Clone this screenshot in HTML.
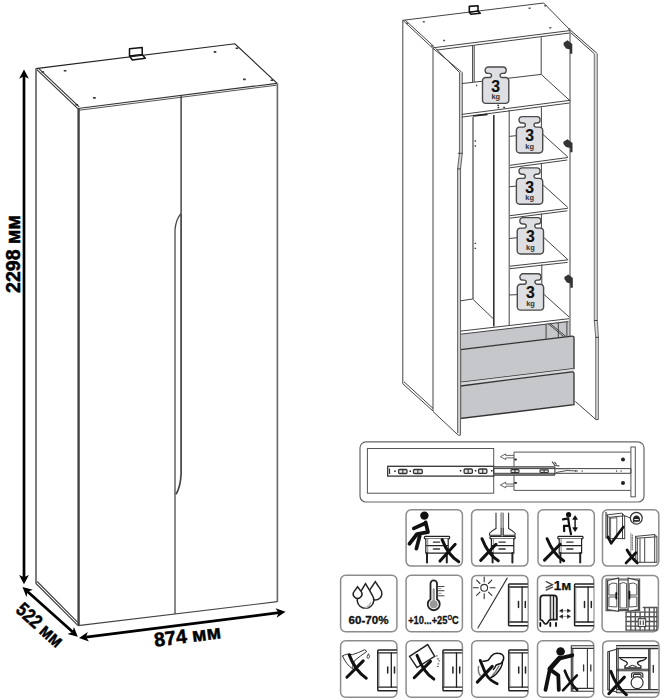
<!DOCTYPE html>
<html><head><meta charset="utf-8">
<style>
html,body{margin:0;padding:0;background:#fff;width:665px;height:700px;overflow:hidden}
svg{display:block}
text{font-family:"Liberation Sans",sans-serif}
</style></head>
<body>
<svg width="665" height="700" viewBox="0 0 665 700">
<defs>
<g id="wt">
<path d="M5.8,0 H20.5 A3.2,3.2 0 0 1 20.5,6.4 H19.6 A2,2 0 0 0 17.6,8.4 A2.1,2.1 0 0 0 19.7,10.5 H23.1 A3.2,3.2 0 0 1 26.3,13.7 V33.2 A3.2,3.2 0 0 1 23.1,36.4 H3.2 A3.2,3.2 0 0 1 0,33.2 V13.7 A3.2,3.2 0 0 1 3.2,10.5 H6.9 A2.1,2.1 0 0 0 9,8.4 A2,2 0 0 0 7,6.4 H5.8 A3.2,3.2 0 0 1 5.8,0 Z" fill="#dedfe3" stroke="#4a4a4a" stroke-width="1.4"/>
<text x="13.2" y="24.7" font-size="15.8" font-weight="bold" text-anchor="middle" fill="#111" stroke="#111" stroke-width="0.15">3</text>
<text x="13.2" y="32.3" font-size="7.4" font-weight="bold" text-anchor="middle" fill="#333">kg</text>
</g>
</defs>
<g id="L" fill="none" stroke="#333" stroke-width="1.2">
<!-- top -->
<path d="M35.8,68.6 L234.9,43.8 L276.9,83.2" stroke="#222" stroke-width="1.1"/>
<path d="M35.8,68.6 L77.8,108.6 M38.6,68.3 L79.2,106.8" stroke-width="1.1"/>
<path d="M77.8,108.5 L277.2,83.3" stroke-width="1.2"/><path d="M79,110.2 L276.5,85.2" stroke="#555" stroke-width="1.1"/>
<!-- bracket -->
<path d="M129.5,56 V48.8 L142.2,47.4 V54.6 M129.5,56 L142.2,54.6 L145.3,58.2 L132.3,60 Z" stroke="#111" stroke-width="1.5" stroke-linejoin="round"/>
<!-- holes -->
<g stroke-width="1.6" stroke="#333">
<path d="M41.6,72 h2.6 M63.8,70.8 h2.6 M93.1,97.9 h2.6 M75.4,104.8 h2.6 M213.7,51.9 h2.6 M243.1,79.4 h2.6 M235.6,48.3 h2.6 M270.6,80.3 h2.6"/>
</g>
<!-- edges -->
<path d="M36,68.6 V583.8" stroke="#777" stroke-width="1.9"/>
<path d="M36,583.5 L77.8,625.4 M37.2,581.5 L78,622.6" stroke="#444" stroke-width="1.2"/>
<path d="M78.6,108.5 V625.6" stroke="#444" stroke-width="2.4"/>
<path d="M277.4,83.2 V601.7" stroke="#666" stroke-width="1.6"/>
<path d="M78,625.6 L277.4,601.7" stroke="#444" stroke-width="1.2"/>
<!-- door split -->
<path d="M181.1,96 V213.5" stroke="#3a3a3a" stroke-width="1.4"/><path d="M181.1,213.5 Q176,219 175,229.8 V614" stroke="#4a4a4a" stroke-width="1.3"/>
<path d="M181.1,213.5 V474.3 Q180.5,487 176,494.2" stroke="#444" stroke-width="1.7"/>
</g>
<!-- dimension arrows -->
<g fill="#000" stroke="#000">
<path d="M24,76 V578" stroke-width="2.7"/>
<path d="M24,69.4 L19.1,78.7 L24,76.3 L28.9,78.7 Z" stroke="none"/>
<path d="M24,584.2 L19.1,574.9 L24,577.3 L28.9,574.9 Z" stroke="none"/>
<path d="M27.5,591.5 L72.8,632" stroke-width="2.7"/>
<path d="M22.5,587 L32.8,589.8 L27.7,591.7 L26.4,596.9 Z" stroke="none"/>
<path d="M77.8,636.8 L73.9,626.9 L72.6,632.1 L67.5,634 Z" stroke="none"/>
<path d="M86,637.2 L279,612.6" stroke-width="2.7"/>
<path d="M79,638 L89,641.6 L85.9,637.1 L87.8,632 Z" stroke="none"/>
<path d="M285.5,611.8 L276.7,617.8 L278.6,612.7 L275.5,608.2 Z" stroke="none"/>
</g>
<g font-weight="bold" fill="#000" stroke="#000" stroke-width="0.5" font-size="19.6">
<text transform="translate(19.5,254) rotate(-90)" text-anchor="middle">2298 мм</text>
<text transform="translate(35.5,630) rotate(41.8)" text-anchor="middle" textLength="56" lengthAdjust="spacingAndGlyphs">522 мм</text>
<text transform="translate(188.3,642.5) rotate(-7.3)" text-anchor="middle">874 мм</text>
</g>
<!-- RIGHT WARDROBE -->
<g id="R" fill="none" stroke="#444" stroke-width="1">
<!-- drawers fill -->
<path d="M460.4,334.5 L569.5,320.5 V336.5 L460.4,349.6 Z" fill="#c6c7cb" stroke="none"/>
<path d="M460.5,349.6 L572,336.1 Q574,336 574,338 V368.7 L460.5,382.5 Z" fill="#c6c7cb" stroke="#333" stroke-width="1.3"/>
<path d="M460.5,382.5 L574,368.7 V371.7 L460.5,386 Z" fill="#d8d9dc" stroke="none"/>
<path d="M460.5,386 L572,371.8 Q574,371.7 574,373.7 V404.7 L460.5,418.5 Z" fill="#c6c7cb" stroke="#333" stroke-width="1.3"/>
<!-- top -->
<path d="M402.8,20.3 L543.7,3 L570.5,30.5"/>
<path d="M402.8,20.3 L432.9,48.3 M405,20 L434,46.6"/>
<path d="M432.9,47.8 L570.5,30.5 M437,50 L569.5,33"/>
<path d="M469.3,12.2 V6.4 L478,5.8 V11 M469.3,12.2 L478,11 L480.2,13.3 L471,14.3 Z" stroke="#111" stroke-width="1.6" stroke-linejoin="round"/>
<g stroke-width="1.5" stroke="#555">
<path d="M406.3,23.3 h2 M422.8,21.8 h2 M443.1,40.6 h2 M431.1,45.9 h2 M528.6,8.3 h2 M549.3,27.8 h2 M544.3,5.8 h2 M568.3,29 h2"/>
</g>
<!-- outer edges -->
<path d="M402.8,20.3 V383.8 L433,411 M404,381.8 L433,408.3"/>
<path d="M433,48.3 V411"/>
<path d="M570,30.5 V336.5"/>
<!-- left door -->
<path d="M433,48.3 L461.8,72.3 M435.5,48.3 L460,73"/>
<path d="M459.5,72.8 V153.3 L457.6,168.9 V433 L460.5,435 V168.9 L462.3,153.3 V72.3 Z" fill="#d6d6d6" stroke="none"/>
<path d="M459.5,72.8 V153.3 L457.6,168.9 V433 M462.3,72.3 V153.3 L460.5,168.9 V435" stroke="#6a6a6a" stroke-width="1.1"/>
<path d="M457.8,153.3 H462.5 M457.3,168.9 H460.8" stroke="#444" stroke-width="1"/>
<path d="M433,411.5 L458.3,435.2 L460.5,435.2"/>
<!-- right door -->
<path d="M570.8,30.5 L597.3,53.6 M570.8,32.8 L594.5,53.8" stroke="#3a3a3a"/>
<path d="M594.3,53.8 V320.5 L595.7,337.3 V418 L598.4,419.6 V337.3 L597.3,320.5 V53.8 Z" fill="#dadada" stroke="none"/>
<path d="M594.3,53.8 V320.5 L595.7,337.3 V419.6 M597.3,53.8 V320.5 L598.4,337.3 V419.6" stroke="#777" stroke-width="1.1"/>
<path d="M594,320.5 H597.6 M595.4,337.3 H598.7" stroke="#444" stroke-width="1"/>
<path d="M575.3,401.4 L596,419.6 H598.4"/>
<!-- top compartment -->
<path d="M472.6,45.6 V82.1 M474.2,45.4 V81.9"/>
<path d="M541.2,37.2 V74.4"/>
<path d="M461.8,83.6 L541.2,74.4 L570.2,100.9"/>
<path d="M461.8,114.4 L570.2,100.3 M461.8,117.1 L569.5,103"/>
<!-- hanging compartment -->
<path d="M473,117 V299" stroke="#858585" stroke-width="1.8"/>
<path d="M474.6,141 h1.5 M474.6,146 h1.5 M474.6,243.3 h1.5 M474.6,248.4 h1.5 M476,85.5 h1.3" stroke="#444" stroke-width="1.3"/>
<path d="M493.8,115 V326.5" stroke-width="1.6" stroke="#333"/>
<path d="M509.2,110 V325.2"/>
<path d="M460.4,300.8 L472.6,299 L493.6,319"/>
<path d="M473,116 L487.5,114.4" stroke-width="1.6" stroke="#222"/>

<!-- shelves compartment -->
<path d="M541.4,107.2 V133 M541.4,163.2 V183.4 M541.4,213.6 V235.3 M541.8,264.5 V293.5"/>
<path d="M509.2,136.4 L541.4,133 L567.8,157 M509.9,165.3 L567.8,157.5 M509.9,167.8 L567.3,160"/>
<path d="M509.2,186.8 L541.4,183.4 L567.8,207.4 M509.9,215.7 L567.8,208.3 M509.9,218.2 L567.3,210.8"/>
<path d="M509.2,238.5 L541.4,235.3 L567.8,259.6 M509.9,266.2 L568.2,259.8 M509.9,268.7 L567.5,262.4"/>
<path d="M509.2,295 L543,293.5 L569.2,317.1"/>
<path d="M460.5,331.1 L569.2,318.7 M460.5,334.2 L568.3,321.6"/>
<!-- drawer inner -->
<path d="M546.1,324.4 V338.8 M548.4,323.9 L564.2,337 M550,323.5 L566,336.5 M558.3,322.6 V337 M566.9,321.8 V337"/>
</g>
<use href="#wt" x="482.5" y="67"/>
<use href="#wt" x="516.4" y="116.6"/>
<use href="#wt" x="516.4" y="167.9"/>
<use href="#wt" x="517.2" y="217.6"/>
<use href="#wt" x="517.3" y="273.7"/>
<g fill="#222"><rect x="497.3" y="104.7" width="1.6" height="1.4"/><rect x="497.6" y="106.9" width="1.6" height="1.4"/><rect x="503.3" y="106.8" width="1.6" height="1.4"/></g>
<!-- hinges -->
<g fill="#333">
<path d="M563.6,42.8 L567.5,40.3 L572.3,44 V53.8 H570 V49.5 L566,48.5 L563.6,45 Z"/>
<path d="M564.4,276.9 L568.3,274.4 L572.8,278 V287.7 H570.3 V283.5 L566.8,282.5 L564.4,279 Z"/>
<path d="M563.4,141.8 L567.5,139.2 L572.5,143 V152.2 H570.2 V148 L566,147 L563.4,144 Z"/>
</g>

<!-- RAIL DIAGRAM -->
<g fill="none" stroke="#333" stroke-width="1">
<rect x="360" y="441.8" width="284" height="60.2" rx="6" stroke="#666" stroke-width="1.2"/>
<rect x="367.4" y="448.5" width="126.3" height="44.7" stroke="#555"/>
<rect x="387.7" y="466.3" width="106" height="9.8" stroke="#333" stroke-width="1.3" fill="#fff"/>
<path d="M389.5,468.5 V474" stroke-width="1.2"/>
<path d="M514,452.1 H630.9 M514,490.4 H630.9 M514,452.1 V466.8 M514,475 V490.4" stroke="#555"/>
<rect x="630.9" y="447" width="4.4" height="49.8" stroke="#555" fill="#fff"/>
<rect x="493.7" y="466.8" width="61.2" height="1.8" fill="#aaa" stroke="none"/><rect x="493.7" y="473.3" width="61.2" height="1.8" fill="#aaa" stroke="none"/>
<path d="M493.7,466.8 H554.9 M493.7,475.1 H554.9 M554.9,466.8 V475.1" stroke="#444" stroke-width="1.1"/>
<path d="M493.7,468.6 H630.9 M493.7,473.3 H630.9 M630.9,468.6 V473.3" stroke="#444"/>
<path d="M555,468.7 L570,468.7 M556,472.5 L567,470.5 L578,471" stroke="#555"/>
<path d="M552,461.5 L555,465.5 L559.5,466 M554.5,462 L556.5,464.5" stroke="#333" stroke-width="1.1"/>
<!-- arrows -->
<path d="M514,455.4 H505.7 V453.9 L500.4,456.7 L505.7,459.6 V457.9 H514" stroke="#555" stroke-width="0.9"/>
<path d="M514,484 H505.7 V482.1 L500.4,485 L505.7,487.9 V486.2 H514" stroke="#555" stroke-width="0.9"/>
</g>
<g fill="#222">
<rect x="514.3" y="458.6" width="2.5" height="1.8"/>
<rect x="514.3" y="482" width="2.5" height="1.8"/>
<circle cx="623" cy="459.5" r="2"/>
<circle cx="623" cy="482.9" r="2"/>
<rect x="394.2" y="470.5" width="1.5" height="1.5"/>
<rect x="409.5" y="470.5" width="1.5" height="1.5"/>
<rect x="459.8" y="470" width="1.5" height="1.5"/>
<rect x="474.8" y="470" width="1.5" height="1.5"/>
<rect x="491" y="470" width="1.5" height="1.5"/>
</g>
<g fill="#e6e6e6" stroke="#333" stroke-width="1.3">
<rect x="398.6" y="469.5" width="8.4" height="4" rx="1"/>
<rect x="413.5" y="469.5" width="8.8" height="4" rx="1"/>
<rect x="464.1" y="469" width="8.3" height="4.3" rx="1"/>
<rect x="478.6" y="469" width="8.3" height="4.3" rx="1"/>
<rect x="511" y="469.6" width="8" height="3" rx="0.8" stroke-width="1.1"/>
<rect x="540" y="469.9" width="8.3" height="2.6" rx="0.8" stroke-width="1.1"/>
</g>
<path d="M402.8,469.5 V473.5 M417.9,469.5 V473.5 M468.2,469 V473.3 M482.7,469 V473.3 M515,469.6 V472.6 M544.1,469.9 V472.5" stroke="#333" stroke-width="1.1"/>
<g fill="#444"><rect x="575" y="470.4" width="1.2" height="1.3"/><rect x="581.5" y="470.4" width="1.2" height="1.3"/><rect x="616" y="470.4" width="1.2" height="1.3"/><rect x="620.5" y="470.4" width="1.2" height="1.3"/></g>

<!-- ICONS -->
<defs>
<g id="box"><rect x="0.3" y="-0.1" width="56.3" height="56.4" rx="5" fill="#fff" stroke="#8c8c8c" stroke-width="1.5"/></g>
<g id="wr">
<path d="M0,0 H19.6 V42.5 H0 Z" fill="#fff" stroke="none"/>
<path d="M19.6,0.8 H1.6 Q0.8,0.8 0.8,1.6 V41.7 Q0.8,42.5 1.6,42.5 H19.6" fill="none" stroke="#222" stroke-width="1.5"/>
<path d="M0.8,3.8 H19.6 M0.8,38.8 H19.6" stroke="#222" stroke-width="1.3"/>
<path d="M2,3.8 V38.8" stroke="#777" stroke-width="0.8"/>
<path d="M14.3,3.8 V38.8" stroke="#222" stroke-width="1.3"/>
<path d="M10.7,18.2 V24.3 M17.5,18.2 V24.3" stroke="#222" stroke-width="1.5"/>
</g>
<g id="ns">
<rect x="0" y="0" width="25.2" height="2.4" rx="0.8" fill="#fff" stroke="#222" stroke-width="1.2"/>
<path d="M1.4,2.4 V16.7 H23.8 V2.4 M1.4,9.3 H23.8" fill="#fff" stroke="#222" stroke-width="1.2"/>
<path d="M3.3,2.4 V16.7" stroke="#666" stroke-width="0.8"/>
<path d="M9,5.8 H15.2 M9,12.6 H15.2" stroke="#333" stroke-width="1.3"/>
<path d="M2.6,16.7 V26 M22.4,16.7 V26" stroke="#222" stroke-width="2"/>
</g>
</defs>
<g fill="none" stroke-linecap="round">
<!-- row 1 -->
<g transform="translate(405.8,509.8)">
<use href="#box"/>
<use href="#ns" x="18.6" y="26.6"/>
<circle cx="18.6" cy="5.8" r="4.2" fill="#111"/>
<path d="M19.8,12.5 L22.2,22.4 L11.2,24.2 L3.6,34 M14.5,24 L10.6,38.8 M20,13.2 L8,18.6" stroke="#111" stroke-width="3.7" stroke-linejoin="round"/>
<path d="M36.3,29.8 Q42,45 53,52" stroke="#111" stroke-width="3"/>
<path d="M49.4,34.5 L34.2,51.3" stroke="#111" stroke-width="3"/>
</g>
<g transform="translate(471.3,509.8)">
<use href="#box"/>
<use href="#ns" x="18.7" y="26.6"/>
<path d="M24.7,3.3 V18.6 M29.9,3.3 V18.6 M31.7,3.3 V18.6 M37.3,3.3 V18.6" stroke="#333" stroke-width="1.1"/>
<path d="M30.8,3.3 V26" stroke="#bbb" stroke-width="1.6"/>
<path d="M24.7,18.6 Q20,21 18.2,23.5 V25.5 H29.8 V18.6 M37.3,18.6 Q42,21 43.8,23.5 V25.5 H32 V18.6" stroke="#333" stroke-width="1.1" fill="#fff"/>
<path d="M10.7,28.9 Q17,45 27,51" stroke="#111" stroke-width="3"/>
<path d="M24.7,34.5 L9.4,50.6" stroke="#111" stroke-width="3"/>
</g>
<g transform="translate(537.7,509.8)">
<use href="#box"/>
<use href="#ns" x="20.1" y="26.6"/>
<circle cx="30.9" cy="4.9" r="2.6" fill="#111"/>
<path d="M25.3,9.6 L30.5,8.5 L31.5,15.8 L26.3,16 L26.5,21.4 M31.5,15.8 L33.3,24.4" stroke="#111" stroke-width="2.2" stroke-linejoin="round"/>
<path d="M37.4,8 V19.5" stroke="#111" stroke-width="1.4"/>
<path d="M35.3,9.3 L37.4,5.9 L39.5,9.3 Z M35.3,18.2 L37.4,21.6 L39.5,18.2 Z" fill="#111" stroke="#111" stroke-width="0.8"/>
<path d="M9.4,28.9 Q16,45 26,51" stroke="#111" stroke-width="3"/>
<path d="M22.5,34.5 L6.8,50.3" stroke="#111" stroke-width="3"/>
</g>
<g transform="translate(602.2,509.8)">
<use href="#box"/>
<path d="M3.4,2.5 V28.5 M4.4,2.5 V28.5" stroke="#666" stroke-width="0.8"/>
<path d="M4.8,5.1 L19.7,3.3 L22.5,6 L7.1,7.5 Z M5.3,5.3 V28.8 M7.1,7.5 V28.8 M22.5,6 V29 M20.3,4 V29 M5.3,28.8 H22.5" stroke="#444" stroke-width="1" fill="#fff"/>
<path d="M8.4,8.4 V28 M14.6,8 V28 M8.4,8.4 L14.6,8" stroke="#555" stroke-width="0.9"/>
<path d="M22.5,6 L28.5,8.3" stroke="#444" stroke-width="1"/>
<circle cx="34.1" cy="8.4" r="5.9" stroke="#333" stroke-width="1.2" fill="#fff"/>
<path d="M31.2,11.8 V8.8 Q31.5,6.5 34,6 Q36.8,6 37.3,8.5 V11 Z" fill="#222" stroke="#111" stroke-width="0.8"/>
<path d="M32.5,9.8 H36" stroke="#fff" stroke-width="1"/>
<path d="M5.7,27 L9,33.5 L21.1,17.2" stroke="#111" stroke-width="2.6" stroke-linejoin="round"/>
<path d="M28.6,23.3 V50.3" stroke="#888" stroke-width="0.8"/>
<path d="M30,25.2 V40.1" stroke="#444" stroke-width="1" stroke-dasharray="1.2,1.2"/>
<path d="M33.2,26.6 L52.8,24.7 L54.7,27 L35.1,28.4 Z M33.5,27 V53 M35.1,28.4 V53 M54.7,27 V52 M52.5,25.5 V52.5 M37.8,29 V52.5 M42.5,28.8 V52 M35,52.5 H54.7" stroke="#444" stroke-width="1" fill="#fff"/>
<path d="M24.8,40.1 Q29,48 35.1,53.1" stroke="#111" stroke-width="2.8"/>
<path d="M33.7,42.9 L23.9,53.1" stroke="#111" stroke-width="2.8"/>
</g>
<!-- row 2 -->
<g transform="translate(340.3,575.4)">
<use href="#box"/>
<path d="M35,6.3 Q33,9.5 29.8,14 A6.6,6.6 0 1 0 40.2,14 Q37,9.5 35,6.3 Z" stroke="#222" stroke-width="1.5" fill="#fff"/>
<path d="M25.2,8.2 Q22,13.5 18.3,20 A8.3,8.3 0 1 0 32.1,20 Q28.5,13.5 25.2,8.2 Z" stroke="#222" stroke-width="1.5" fill="#fff"/>
<path d="M17.3,11.4 L13.9,16 A4.3,4.3 0 1 0 20.7,16 Z" stroke="#222" stroke-width="1.5" fill="#fff"/>
<path d="M30.5,27 Q29,31 25,32.5" stroke="#bbb" stroke-width="1.5"/>
<text x="28.2" y="48.5" font-size="11.8" font-weight="bold" text-anchor="middle" fill="#111" stroke="#111" stroke-width="0.35" textLength="40" lengthAdjust="spacingAndGlyphs">60-70%</text>
</g>
<g transform="translate(405.8,575.4)">
<use href="#box"/>
<path d="M24.7,23.8 V8.3 A3.25,3.25 0 0 1 31.2,8.3 V23.8 A6,6 0 1 1 24.7,23.8 Z" stroke="#222" stroke-width="1.8" fill="#fff"/>
<circle cx="27.9" cy="28.8" r="4" fill="#999"/>
<path d="M27.9,14 V26" stroke="#999" stroke-width="2.2"/>
<path d="M32.2,11.1 H38.2 M32.2,15.3 H38.2 M32.2,20.4 H38.2" stroke="#444" stroke-width="1"/>
<path d="M32.2,13.2 H35.5 M32.2,17.9 H35.5" stroke="#888" stroke-width="0.8"/>
<text x="2.4" y="48.4" font-size="11.6" font-weight="bold" fill="#111" stroke="#111" stroke-width="0.3" textLength="50.6" lengthAdjust="spacingAndGlyphs">+10...+25<tspan font-size="7.5" dy="-4.2">O</tspan><tspan dy="4.2">C</tspan></text>
</g>
<g transform="translate(471.4,575.5)">
<use href="#box"/>
<circle cx="12.8" cy="12.3" r="3.4" stroke="#333" stroke-width="1.1"/>
<path d="M12.8,1.5 V6.3 M12.8,18.3 V23.1 M2,12.3 H6.8 M18.8,12.3 H23.6 M5.2,4.7 L8.5,8 M17.1,16.6 L20.4,19.9 M5.2,19.9 L8.5,16.6 M17.1,8 L20.4,4.7" stroke="#333" stroke-width="1.1"/>
<path d="M35.8,2.6 L6.5,52.5" stroke="#333" stroke-width="1.1"/>
<use href="#wr" x="36.4" y="7.7"/>
</g>
<g transform="translate(537.2,575.5)">
<use href="#box"/>
<path d="M9,6.2 L15.3,9.2 L9,12.2 M9,14.6 L15.3,11.6" stroke="#444" stroke-width="1.3" fill="none"/>
<text x="16.6" y="14.6" font-size="13.6" font-weight="bold" fill="#111" stroke="#111" stroke-width="0.25">1м</text>
<path d="M13.1,20.2 V44.2 M16.2,20.2 V44.2" stroke="#222" stroke-width="1.2"/>
<rect x="13.7" y="20.8" width="2" height="23" fill="#ccc"/><rect x="16.8" y="20.8" width="2.4" height="23" fill="#ccc"/>
<path d="M3.1,44.2 V23 Q3.1,19.9 6.2,19.9 H16.6 Q19.7,19.9 19.7,23 V44.2 H13.5 Q11.5,44.5 10.5,47 Q8.5,50 6.5,47 Q5.5,44.5 3.1,44.2 Z" stroke="#1a1a1a" stroke-width="1.7" fill="none"/>
<path d="M3.1,47.3 V50.5 M13.1,47.3 V50.5 M18.8,47.3 V50.5" stroke="#111" stroke-width="1.8"/>
<path d="M25,35.2 H30.5 M25,40.9 H30.5" stroke="#999" stroke-width="1"/>
<path d="M22.6,35.2 L25.3,33.6 V36.8 Z M33,35.2 L30.3,33.6 V36.8 Z M22.6,40.9 L25.3,39.3 V42.5 Z M33,40.9 L30.3,39.3 V42.5 Z" fill="#111" stroke="#111" stroke-width="0.6" stroke-linejoin="round"/>
<use href="#wr" x="36.6" y="7.7"/>
</g>
<g transform="translate(601.8,575.5)">
<use href="#box"/>
<path d="M4.3,3.5 H37.8 V35.2 H4.3 Z" stroke="#555" stroke-width="1.2" fill="#fff"/>
<path d="M5.8,5 L16.8,2.6 V35.8 L5.8,34 Z M26.3,2.6 L36.6,5 V34 L26.3,35.8 Z" stroke="#444" stroke-width="1.2" fill="#fff"/>
<path d="M16.8,4.5 H26.3 M16.8,34 H26.3 M18.2,8 V32.5 H24.8 V8 Q21.5,6 18.2,8" stroke="#555" stroke-width="1"/>
<path d="M7.5,9 Q11,6.5 15,8 V19.5 H7.5 Z M7.5,21.5 H15 V31.5 L7.5,31 Z M27.8,8 Q32,6.5 35,9 V19.5 H27.8 Z M27.8,21.5 H35 V31 L27.8,31.5 Z" stroke="#555" stroke-width="1"/>
<path d="M14.5,17.5 V23.1 M27.6,16.1 V23.1" stroke="#111" stroke-width="1.8"/>
<g stroke="#555" stroke-width="1.4" fill="none">
<path d="M24.3,36.6 H55.1 M24.3,41.3 H55.1 M24.3,46 H55.1 M24.3,50.6 H55.1 M24.3,54.6 H55.1 M41.5,32 H55.1"/>
<path d="M24.3,36.6 V54.6 M29,36.6 V54.6 M33.6,36.6 V54.6 M38.3,36.6 V54.6 M43,32 V54.6 M47.6,32 V54.6 M52.3,32 V54.6 M55.1,32 V54.6"/>
</g>

<rect x="36.4" y="43.2" width="7.5" height="7.9" fill="#f2f2f2" stroke="#333" stroke-width="1"/>
<path d="M38.5,45.5 V49 M41.5,45.5 V49" stroke="#333" stroke-width="1"/>
</g>
<!-- row 3 -->
<g transform="translate(340.3,640.9)">
<use href="#box"/>
<path d="M2.3,15.2 Q6,12 12,13.8 Q18,12 24.5,8.8 L26.5,10.5 Q20,15 14,20 Q12,24 12.5,28 Q6,24 2.3,15.2 Z" stroke="#333" stroke-width="1" fill="#fff"/>
<path d="M28,13.2 L26.8,15.6 A1.3,1.3 0 1 0 29.2,15.6 Z" stroke="#333" stroke-width="0.9"/>
<path d="M8.9,14 Q15,30 26,37.3" stroke="#111" stroke-width="3"/>
<path d="M22.9,20 L6.6,36.3" stroke="#111" stroke-width="3"/>
<use href="#wr" x="36.7" y="8.2" transform="translate(0,0.2) scale(1,0.98)"/>
</g>
<g transform="translate(405.8,640.9)">
<use href="#box"/>
<path d="M3.7,15.4 L21.9,3.7 L28.9,15.4 L11.2,26.6 Z" stroke="#222" stroke-width="1.4" fill="#fff"/>
<path d="M30.5,15 h1 M31.5,18 h1.5 M33,20 h1 M32,23 h1 M31.5,25.5 h1" stroke="#555" stroke-width="1"/>
<path d="M11.2,14.4 Q18,32 28,38.2" stroke="#111" stroke-width="3"/>
<path d="M24.7,20.5 L8.4,36.8" stroke="#111" stroke-width="3"/>
<use href="#wr" x="36.4" y="8.2" transform="translate(0,0.2) scale(1,0.98)"/>
</g>
<g transform="translate(471.4,640.9)">
<use href="#box"/>
<path d="M11.5,20.4 Q14,20.4 16.8,19.3 Q18.5,17.5 20,15 Q22.5,12 26.3,12.3 Q31,12.5 32.1,15.5 Q33,19 29.5,22.5 Q26.5,23.2 24.7,24.2" stroke="#111" stroke-width="1.5"/>
<path d="M31.2,21 Q30.5,27 25,32.8 Q22.5,35.5 19.5,36.6 M24.5,24.5 Q23.5,27 22,28.5" stroke="#111" stroke-width="1.4"/>
<path d="M27.5,25 Q25,30.5 21,34.5 M7.2,25.5 Q6.2,31 8.8,34.6" stroke="#777" stroke-width="1.4"/>
<path d="M8.8,19.5 L14.3,33 Q18,39.5 25.8,42.8" stroke="#111" stroke-width="2.8"/>
<path d="M20.9,25.5 L5.9,41.2" stroke="#111" stroke-width="3"/>
<use href="#wr" x="36.6" y="8.2" transform="translate(0,0.2) scale(1,0.98)"/>
</g>
<g transform="translate(537.2,640.9)">
<use href="#box"/>
<path d="M34.1,4.8 H56 M34.1,7.5 H56 M34.1,4.8 V50.3 M35.6,7.5 V50.3 M34.1,47.5 H56 M34.1,50.3 H56 M50.2,7.5 V47.5" stroke="#333" stroke-width="1.1"/>
<path d="M46.4,24 V30 M53.6,24 V30" stroke="#333" stroke-width="1.3"/>
<circle cx="23.4" cy="10.6" r="4.3" fill="#111"/>
<path d="M22,17.5 L12.7,28" stroke="#111" stroke-width="4.8"/>
<path d="M35.1,14.4 L22.5,17.5 M12.7,28 L8.3,49 M12.7,28.5 L21.1,34.5 L21.6,49" stroke="#111" stroke-width="3.8" stroke-linejoin="round"/>
<path d="M27.6,29.8 Q32,42 40,49" stroke="#111" stroke-width="2.6"/>
<path d="M39.7,34.5 L25.8,49.4" stroke="#111" stroke-width="2.6"/>
</g>
<g transform="translate(602.4,641)">
<use href="#box"/>
<path d="M14.2,4.6 H55.5 M14.2,7.6 H55.5 M14.2,4.6 V51.8 M15.8,7.6 V48.5 M46.3,7.6 V48.5 M47.6,7.6 V48.5 M14.2,48.5 H55.5 M14.2,51.8 H55.5 M14.2,28.3 H46.3 M14.2,29.8 H46.3" stroke="#333" stroke-width="1.1"/>
<path d="M14.2,6.1 H55.5 M14.2,50.1 H55.5" stroke="#bbb" stroke-width="1.5"/>
<path d="M5.4,10.7 L14.2,8.3 M5.4,10.7 V48.8 L14.2,51 M7,11 V48.5" stroke="#333" stroke-width="1.1"/>
<path d="M50.9,24.4 V31.2" stroke="#333" stroke-width="1.4"/>
<path d="M17.2,16.6 H44 Q43.5,18.6 40,19.5 Q35.5,20.5 35,22 Q35.5,24 38.5,25 V27 H22.5 V25 Q25,24 25,22 Q24,20 21,19.3 Q18,18.5 17.2,16.6 Z" stroke="#222" stroke-width="1.3" fill="#fff"/>
<path d="M26.5,25.5 Q30,23 34,25.5" stroke="#222" stroke-width="1"/>
<path d="M29.2,36.5 V33 Q29.2,31.8 30.8,31.8 H38.8 Q40.4,31.8 40.4,33 V36.5 M31,36 V34.3 Q31,33.4 32,33.4 H37.6 Q38.6,33.4 38.6,34.3 V36" stroke="#333" stroke-width="1.2" fill="none"/>
<circle cx="34.7" cy="41.6" r="6" stroke="#333" stroke-width="1.2" fill="#fff"/>
<path d="M8.4,30.3 Q14,46 24,53.7" stroke="#111" stroke-width="3"/>
<path d="M22,36.1 L6.4,52.7" stroke="#111" stroke-width="3"/>
</g>
</g>
</svg>
</body></html>
